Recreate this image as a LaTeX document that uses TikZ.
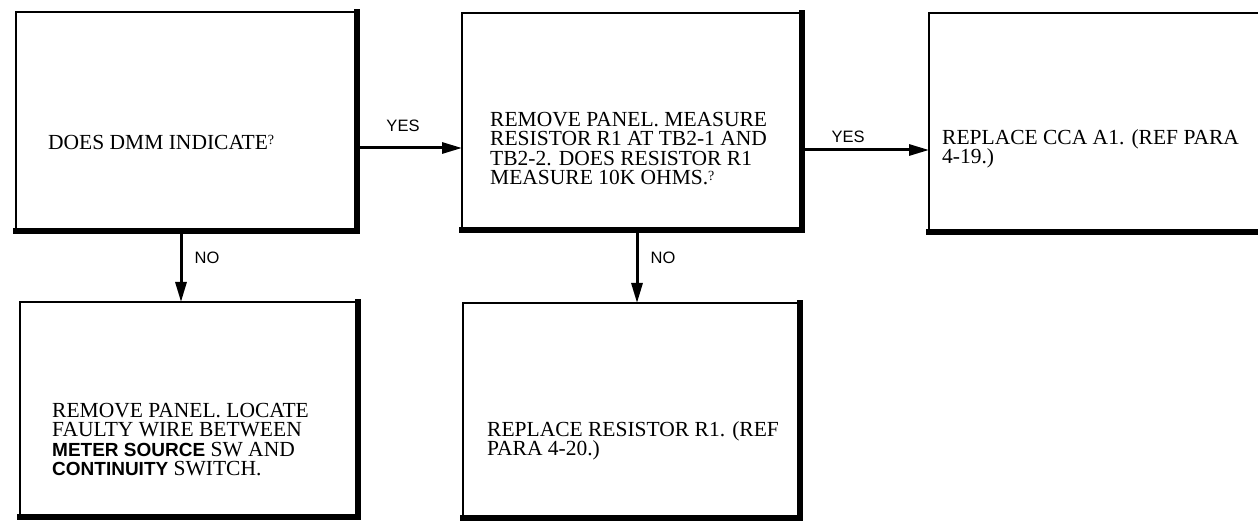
\documentclass[tikz,border=0pt]{standalone}
\usepackage{fontspec}
\setmainfont{Liberation Serif}
\newfontfamily\lblfont{Liberation Sans}
\newfontfamily\bsansfont{Liberation Sans Bold}
\usetikzlibrary{arrows.meta,calc}
\newcommand\myqm{\raisebox{0.45ex}{\fontsize{14}{14}\selectfont ?}}
\newcommand\bsans[1]{{\bsansfont\fontsize{19}{19.5}\selectfont #1}}
\begin{document}
\begin{tikzpicture}[x=1pt,y=-1pt,
  box/.style={draw,line width=1.9pt,inner sep=0pt,outer sep=0pt,anchor=north west},
  heavy/.style={line width=5.2pt,line cap=rect,line join=miter},
  arr/.style={line width=3pt,-{Triangle[length=20pt,width=11pt]}},
  txt/.style={anchor=north west,align=left,inner sep=0pt,font=\fontsize{21.5}{19.5}\selectfont},
  lbl/.style={font=\lblfont\fontsize{16.5}{16.5}\selectfont,inner sep=0pt}]
\useasboundingbox (0,0) rectangle (1258,521);
\clip (0,0) rectangle (1258,521);
% boxes
\node[box,minimum width=341pt,minimum height=219pt] (b1) at (16,12) {};
\node[box,minimum width=340pt,minimum height=217pt] (b2) at (462,13) {};
\node[box,minimum width=360pt,minimum height=219pt] (b3) at (929,13) {};
\node[box,minimum width=338pt,minimum height=215pt] (b4) at (20,302) {};
\node[box,minimum width=337pt,minimum height=215pt] (b5) at (463,303) {};
\foreach \b in {b1,b2,b3,b4,b5}
  \draw[heavy] (\b.south west) -- (\b.south east) -- (\b.north east);
% texts
\node[txt] (t1) at (48,135) {DOES DMM INDICATE\myqm};
\node[txt] (t2) at (490,112) {REMOVE PANEL. MEASURE\\RESISTOR R1 AT TB2-1 AND\\TB2-2. DOES RESISTOR R1\\MEASURE 10K OHMS.\myqm};
\node[txt] (t3) at (942,129) {REPLACE CCA A1. (REF PARA\\4-19.)};
\node[txt] (t4) at (52,403) {REMOVE PANEL. LOCATE\\FAULTY WIRE BETWEEN\\\bsans{METER SOURCE} SW AND\\\bsans{CONTINUITY} SWITCH.};
\node[txt] (t5) at (487,421) {REPLACE RESISTOR R1. (REF\\PARA 4-20.)};
% connectors
\coordinate (ya) at (0,148);
\coordinate (yb) at (0,150);
\coordinate (xa) at (181,0);
\coordinate (xb) at (637,0);
\draw[arr] (b1.east |- ya) -- (b2.west |- ya);
\draw[arr] (b2.east |- yb) -- (b3.west |- yb);
\draw[arr] (b1.south -| xa) -- (b4.north -| xa);
\draw[arr] (b2.south -| xb) -- (b5.north -| xb);
% labels
\node[lbl] (yes1) at (403,126) {YES};
\node[lbl] (yes2) at (848,137) {YES};
\node[lbl] (no1) at (207,258) {NO};
\node[lbl] (no2) at (663,258) {NO};
\end{tikzpicture}
\end{document}
